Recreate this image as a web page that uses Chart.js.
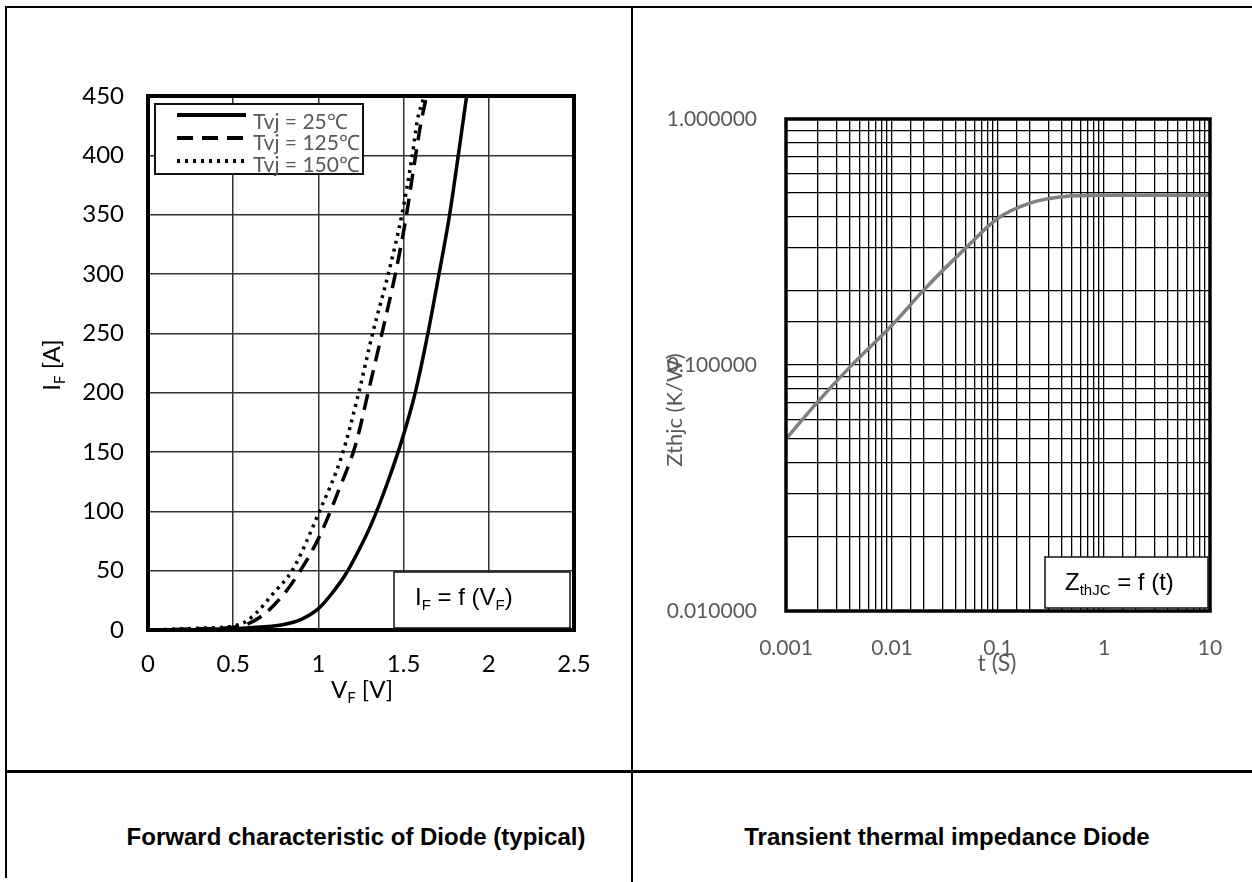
<!DOCTYPE html>
<html>
<head>
<meta charset="utf-8">
<script src="https://cdn.jsdelivr.net/npm/chart.js@4.4.0/dist/chart.umd.min.js"></script>
<style>
body { margin: 0; background: #fff; }
#page { position: relative; width: 1252px; height: 882px; overflow: hidden; }
.ln { position: absolute; background: #000; }
#c1 { position: absolute; left: 0; top: 0; }
#c2 { position: absolute; left: 633px; top: 0; }
.cap { position: absolute; top: 837px; transform: translate(-50%, -50%); white-space: nowrap;
       font: bold 24px "Liberation Sans", Arial, sans-serif; color: #000; }
</style>
</head>
<body>
<div id="page">
  <div class="ln" style="left:5px;top:6px;width:1247px;height:2px"></div>
  <div class="ln" style="left:5px;top:6px;width:2px;height:872px"></div>
  <div class="ln" style="left:631px;top:6px;width:2px;height:876px"></div>
  <div class="ln" style="left:5px;top:770px;width:1247px;height:3px"></div>
  <canvas id="c1" width="630" height="770"></canvas>
  <canvas id="c2" width="619" height="770"></canvas>
  <div class="cap" style="left:356px">Forward characteristic of Diode (typical)</div>
  <div class="cap" style="left:947px">Transient thermal impedance Diode</div>
</div>
<script>
// forward characteristic
var vf25 = [0, 0.3, 0.6, 0.79, 0.9, 1.0, 1.08, 1.16, 1.24, 1.31, 1.4, 1.49, 1.57, 1.64, 1.70, 1.77, 1.82, 1.87];
var if25 = [0, 0.5, 2, 4.5, 9, 18, 31, 47, 68, 89, 122, 160, 201, 248, 294, 350, 399, 450];
var vf125 = [0, 0.3, 0.535, 0.67, 0.79, 0.885, 1.0, 1.12, 1.22, 1.29, 1.37, 1.45, 1.51, 1.56, 1.6, 1.63];
var if125 = [0, 1, 3, 12, 29, 48, 77, 118, 157, 199, 248, 299, 344, 390, 426, 447];
var vf150 = [0, 0.3, 0.535, 0.63, 0.73, 0.85, 1.0, 1.14, 1.235, 1.32, 1.41, 1.49, 1.55, 1.58, 1.615];
var if150 = [0, 1.5, 4.5, 13.6, 30, 51, 98, 148, 199, 251, 300, 350, 399, 429, 447];
var legendNames = ['Tvj = 25\u2103', 'Tvj = 125\u2103', 'Tvj = 150\u2103'];

// transient thermal impedance
var tSec = [0.001, 0.002, 0.004, 0.01, 0.02, 0.05, 0.1, 0.2, 0.4, 1, 10];
var zth = [0.05, 0.071, 0.098, 0.145, 0.202, 0.30, 0.395, 0.455, 0.483, 0.49, 0.49];

function pts(xs, ys) {
    return xs.map(function(x, i) { return { x: x, y: ys[i] }; });
}

// text with subscripts: parts = [[text, isSub], ...]
function drawRich(ctx, parts, x, y, size, family, color, align) {
    ctx.save();
    ctx.fillStyle = color;
    ctx.textBaseline = 'middle';
    ctx.textAlign = 'left';
    var w = 0;
    parts.forEach(function(p) {
        ctx.font = (p[1] ? Math.round(size * 0.62) : size) + 'px ' + family;
        w += ctx.measureText(p[0]).width;
    });
    var cx = align === 'center' ? x - w / 2 : x;
    parts.forEach(function(p) {
        ctx.font = (p[1] ? Math.round(size * 0.62) : size) + 'px ' + family;
        ctx.fillText(p[0], cx, y + (p[1] ? size * 0.32 : 0));
        cx += ctx.measureText(p[0]).width;
    });
    ctx.restore();
}

function frame(ctx, a, w) {
    ctx.save();
    ctx.strokeStyle = '#000';
    ctx.lineWidth = w;
    ctx.strokeRect(a.left, a.top, a.right - a.left, a.bottom - a.top);
    ctx.restore();
}

function box(ctx, x1, y1, x2, y2, lw) {
    ctx.save();
    ctx.fillStyle = '#fff';
    ctx.fillRect(x1, y1, x2 - x1, y2 - y1);
    ctx.strokeStyle = '#111';
    ctx.lineWidth = lw;
    ctx.strokeRect(x1, y1, x2 - x1, y2 - y1);
    ctx.restore();
}

var CAL = 'Lato, "Open Sans", sans-serif';
var ARIAL = '"Liberation Sans", Arial, sans-serif';
var dashes = [[], [16, 9], [3, 5]];

var leftDecor = {
    id: 'leftDecor',
    afterDraw: function(chart) {
        var ctx = chart.ctx;
        frame(ctx, chart.chartArea, 4);

        // legend
        box(ctx, 155, 104, 363, 174, 2);
        var ly = [115, 138, 161];
        var ty = [122, 143, 165];
        for (var i = 0; i < 3; i++) {
            ctx.save();
            ctx.strokeStyle = '#000';
            ctx.lineWidth = 4;
            ctx.setLineDash(dashes[i]);
            ctx.beginPath();
            ctx.moveTo(177, ly[i]);
            ctx.lineTo(246, ly[i]);
            ctx.stroke();
            ctx.restore();
            drawRich(ctx, [[legendNames[i]]], 253, ty[i], 21, CAL, '#595959', 'left');
        }

        box(ctx, 394, 572, 570, 628, 1.5);
        drawRich(ctx, [['I'], ['F', 1], [' = f (V'], ['F', 1], [')']], 415, 598, 24, ARIAL, '#000', 'left');

        drawRich(ctx, [['V'], ['F', 1], [' [V]']], 362, 690, 24, CAL, '#000', 'center');
        ctx.save();
        ctx.translate(52, 365);
        ctx.rotate(-Math.PI / 2);
        drawRich(ctx, [['I'], ['F', 1], [' [A]']], 0, 0, 24, CAL, '#000', 'center');
        ctx.restore();
    }
};

var rightDecor = {
    id: 'rightDecor',
    afterDraw: function(chart) {
        var ctx = chart.ctx;
        frame(ctx, chart.chartArea, 3.5);
        box(ctx, 412, 557, 575, 608, 1.5);
        drawRich(ctx, [['Z'], ['thJC', 1], [' = f (t)']], 432, 583, 24, ARIAL, '#000', 'left');
        drawRich(ctx, [['t (S)']], 364, 664, 23, CAL, '#595959', 'center');
        ctx.save();
        ctx.translate(42, 410);
        ctx.rotate(-Math.PI / 2);
        drawRich(ctx, [['Zthjc (K/W)']], 0, 0, 22, CAL, '#595959', 'center');
        ctx.restore();
    }
};

function isDecade(v) {
    var l = Math.log10(v);
    return Math.abs(l - Math.round(l)) < 1e-9;
}

document.addEventListener('DOMContentLoaded', function() {
    var ctxLeft = document.getElementById('c1').getContext('2d');
    var leftChart = new Chart(ctxLeft, {
        type: 'line',
        data: {
            datasets: [
                { data: pts(vf25, if25), borderColor: '#000', borderWidth: 3.5, borderDash: dashes[0] },
                { data: pts(vf125, if125), borderColor: '#000', borderWidth: 3.5, borderDash: dashes[1] },
                { data: pts(vf150, if150), borderColor: '#000', borderWidth: 3.5, borderDash: dashes[2] }
            ]
        },
        options: {
            responsive: false,
            animation: false,
            layout: { padding: { left: 0, top: 96, right: 56, bottom: 0 } },
            elements: { point: { radius: 0 }, line: { cubicInterpolationMode: 'monotone', fill: false } },
            plugins: { legend: { display: false }, tooltip: { enabled: false } },
            scales: {
                x: {
                    type: 'linear', min: 0, max: 2.5,
                    ticks: {
                        stepSize: 0.5, color: '#000', padding: 20, font: { family: CAL, size: 24 }, maxRotation: 0,
                        callback: function(v) { return String(+Number(v).toFixed(2)); }
                    },
                    grid: { color: '#333', lineWidth: 1.5, drawTicks: false },
                    border: { display: false },
                    afterFit: function(s) { s.height = 140; }
                },
                y: {
                    type: 'linear', min: 0, max: 450,
                    ticks: { stepSize: 50, color: '#000', padding: 24, font: { family: CAL, size: 24 } },
                    grid: { color: '#333', lineWidth: 1.5, drawTicks: false },
                    border: { display: false },
                    afterFit: function(s) { s.width = 148; }
                }
            }
        },
        plugins: [leftDecor]
    });

    var ctxRight = document.getElementById('c2').getContext('2d');
    var rightChart = new Chart(ctxRight, {
        type: 'line',
        data: {
            datasets: [
                { data: pts(tSec, zth), borderColor: '#808080', borderWidth: 3.5 }
            ]
        },
        options: {
            responsive: false,
            animation: false,
            layout: { padding: { left: 0, top: 119, right: 42, bottom: 0 } },
            elements: { point: { radius: 0 }, line: { cubicInterpolationMode: 'monotone', fill: false } },
            plugins: { legend: { display: false }, tooltip: { enabled: false } },
            scales: {
                x: {
                    type: 'logarithmic', min: 0.001, max: 10,
                    ticks: {
                        autoSkip: false, maxRotation: 0, color: '#595959', padding: 25,
                        font: { family: CAL, size: 21 },
                        callback: function(v) { return isDecade(v) ? String(+v.toPrecision(6)) : ''; }
                    },
                    grid: { color: '#000', lineWidth: 1.3, drawTicks: false },
                    border: { display: false },
                    afterFit: function(s) { s.height = 159; }
                },
                y: {
                    type: 'logarithmic', min: 0.01, max: 1,
                    ticks: {
                        autoSkip: false, color: '#595959', padding: 29,
                        font: { family: CAL, size: 21 },
                        callback: function(v) { return isDecade(v) ? Number(v).toFixed(6) : ''; }
                    },
                    grid: { color: '#000', lineWidth: 1.3, drawTicks: false },
                    border: { display: false },
                    afterFit: function(s) { s.width = 153; }
                }
            }
        },
        plugins: [rightDecor]
    });
});
</script>
</body>
</html>
